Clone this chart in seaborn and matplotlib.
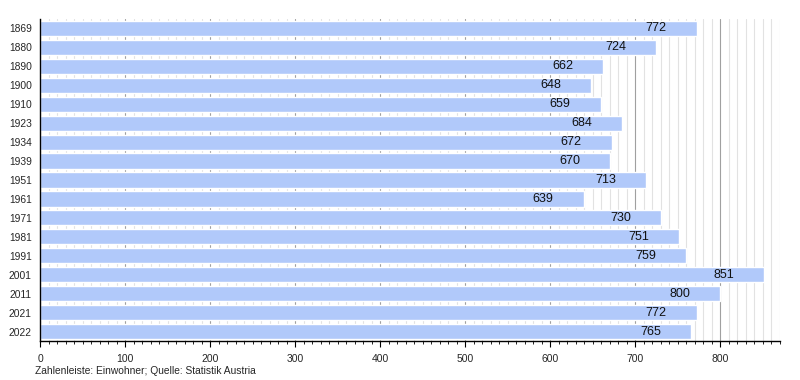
import matplotlib
matplotlib.use("Agg")
import matplotlib.pyplot as plt
from matplotlib.ticker import MultipleLocator
import seaborn as sns
import pandas as pd

# Daten
years = ["1869", "1880", "1890", "1900", "1910", "1923", "1934", "1939", "1951",
         "1961", "1971", "1981", "1991", "2001", "2011", "2021", "2022"]
population = [772, 724, 662, 648, 659, 684, 672, 670, 713,
              639, 730, 751, 759, 851, 800, 772, 765]

df = pd.DataFrame({"year": years, "pop": population})

sns.set_style("white")
plt.rcParams["font.family"] = ["Liberation Sans", "DejaVu Sans"]

fig = plt.figure(figsize=(8, 3.8), dpi=100)
ax = fig.add_axes([0.05, 0.1026, 0.925, 0.8474])

ax.set_axisbelow(True)
sns.barplot(data=df, x="pop", y="year", color="#b1c9fa", saturation=1,
            width=0.8, orient="h", ax=ax)

ax.set_xlim(0, 870)
ax.xaxis.set_major_locator(MultipleLocator(100))
ax.xaxis.set_minor_locator(MultipleLocator(10))
ax.grid(which="minor", axis="x", color="#e2e2e2", linewidth=0.8)
ax.grid(which="major", axis="x", color="#a0a0a0", linewidth=0.8)
ax.grid(False, axis="y")

# Werte in den Balken
for i, v in enumerate(population):
    ax.annotate(str(v), xy=(v, i), xytext=(-21.5, 0), textcoords="offset points",
                ha="right", va="center", fontsize=9, color="#111111")

ax.set_xlabel("")
ax.set_ylabel("")
ax.tick_params(axis="x", which="major", bottom=True, direction="out", length=4,
               width=0.8, labelsize=7.5, color="black", pad=5)
ax.tick_params(axis="x", which="minor", bottom=True, direction="out", length=2,
               width=0.6, color="black")
ax.tick_params(axis="y", left=False, length=0, labelsize=7.4, pad=6)

for side in ["top", "right"]:
    ax.spines[side].set_visible(False)
for side in ["left", "bottom"]:
    ax.spines[side].set_color("black")
    ax.spines[side].set_linewidth(1.0)

fig.text(0.044, 0.025, "Zahlenleiste: Einwohner; Quelle: Statistik Austria",
         fontsize=7.4, ha="left", va="center")

fig.savefig("out.png", dpi=100)
